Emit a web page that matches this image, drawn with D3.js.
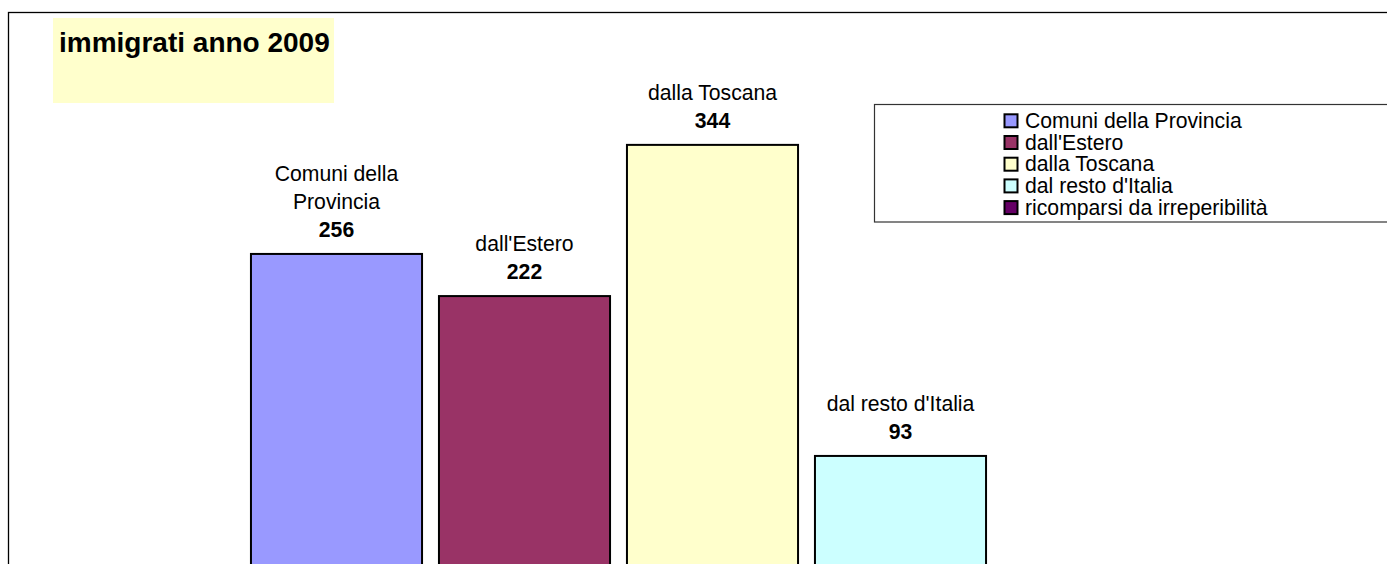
<!DOCTYPE html>
<html>
<head>
<meta charset="utf-8">
<script src="https://cdn.jsdelivr.net/npm/d3@7/dist/d3.min.js"></script>
<style>
  html, body { margin: 0; padding: 0; background: #fff; overflow: hidden; }
  svg { display: block; }
  text { font-family: "Liberation Sans", Arial, sans-serif; }
</style>
</head>
<body>
<svg id="chart" width="1387" height="564"></svg>
<script>
const titleText = "immigrati anno 2009";
const categories = ["Comuni della Provincia", "dall'Estero", "dalla Toscana", "dal resto d'Italia", "ricomparsi da irreperibilità"];
const labelLines = [["Comuni della", "Provincia"], ["dall'Estero"], ["dalla Toscana"], ["dal resto d'Italia"], ["ricomparsi da irreperibilità"]];
const values = [256, 222, 344, 93, null];
const colors = ["#9999FF", "#993366", "#FFFFCC", "#CCFFFF", "#660066"];

const svg = d3.select("#chart");

// outer chart border (extends beyond viewport)
svg.append("rect").attr("x", 8.5).attr("y", 12.5).attr("width", 1500).attr("height", 700)
  .attr("fill", "#fff").attr("stroke", "#000").attr("stroke-width", 1.3);

// scales
const x = d3.scaleBand().domain(categories).range([242.5, 242.5 + 5 * 188])
  .paddingInner(0.09).paddingOuter(0.045);
const y = d3.scaleLinear().domain([0, 400]).range([571.2, 571.2 - 400 * 1.2393]);

const data = categories.map((c, i) => ({ cat: c, v: values[i], color: colors[i], lines: labelLines[i] }))
  .filter(d => d.v != null);

// bars
svg.append("g").selectAll("rect").data(data).join("rect")
  .attr("x", d => x(d.cat))
  .attr("y", d => y(d.v))
  .attr("width", x.bandwidth())
  .attr("height", d => y(0) - y(d.v))
  .attr("fill", d => d.color)
  .attr("stroke", "#000").attr("stroke-width", 2);

// labels
const FS = 21.2;
const lab = svg.append("g").selectAll("g").data(data).join("g");
lab.append("text")
  .attr("x", d => x(d.cat) + x.bandwidth() / 2)
  .attr("y", d => y(d.v) - 17)
  .attr("text-anchor", "middle")
  .attr("font-size", FS).attr("font-weight", "bold").attr("fill", "#000")
  .text(d => d.v);
lab.each(function(d) {
  const g = d3.select(this);
  const n = d.lines.length;
  d.lines.forEach((ln, k) => {
    g.append("text")
      .attr("x", x(d.cat) + x.bandwidth() / 2)
      .attr("y", y(d.v) - 17 - 27.8 * (n - k))
      .attr("text-anchor", "middle")
      .attr("font-size", FS).attr("fill", "#000")
      .text(ln);
  });
});

// title box
svg.append("rect").attr("x", 53).attr("y", 18).attr("width", 281).attr("height", 85).attr("fill", "#FFFFCC");
svg.append("text").attr("x", 59).attr("y", 52).attr("font-size", 28).attr("font-weight", "bold")
  .attr("fill", "#000").text(titleText);

// legend
svg.append("rect").attr("x", 874.5).attr("y", 104.5).attr("width", 700).attr("height", 117.5)
  .attr("fill", "#fff").attr("stroke", "#333").attr("stroke-width", 1.2);
const leg = svg.append("g").selectAll("g").data(categories).join("g")
  .attr("transform", (d, i) => `translate(1004.5, ${120.8 + i * 21.7})`);
leg.append("rect").attr("x", 0).attr("y", -6.5).attr("width", 13).attr("height", 13)
  .attr("fill", (d, i) => colors[i]).attr("stroke", "#000").attr("stroke-width", 2);
leg.append("text").attr("x", 20.5).attr("y", 7).attr("font-size", 21.2).attr("fill", "#000")
  .text(d => d);
</script>
</body>
</html>
